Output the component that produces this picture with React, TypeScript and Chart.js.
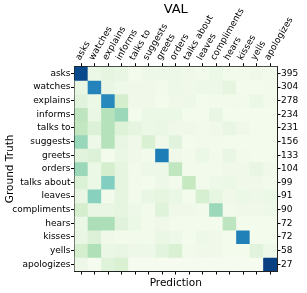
import React, { useEffect, useRef } from "react";
import { Chart, registerables } from "chart.js";

Chart.register(...registerables);

const predLabels = ["asks", "watches", "explains", "informs", "talks to", "suggests", "greets", "orders", "talks about", "leaves", "compliments", "hears", "kisses", "yells", "apologizes"];
const truthLabels = ["asks", "watches", "explains", "informs", "talks to", "suggests", "greets", "orders", "talks about", "leaves", "compliments", "hears", "kisses", "yells", "apologizes"];
const rowCounts = [395, 304, 278, 234, 231, 156, 133, 104, 99, 91, 90, 72, 72, 58, 27];

// normalized confusion values (row = ground truth, column = prediction)
const rowAsks = [0.97, 0.06, 0.1, 0.08, 0.02, 0.05, 0.05, 0.05, 0.04, 0.03, 0.06, 0.03, 0.03, 0.04, 0.03];
const rowWatches = [0.08, 0.78, 0.08, 0.05, 0.04, 0.04, 0.03, 0.05, 0.04, 0.05, 0.05, 0.1, 0.02, 0.02, 0.03];
const rowExplains = [0.12, 0.06, 0.76, 0.2, 0.04, 0.04, 0.02, 0.04, 0.05, 0.02, 0.03, 0.03, 0.03, 0.06, 0.03];
const rowInforms = [0.3, 0.07, 0.33, 0.41, 0.02, 0.06, 0.06, 0.06, 0.02, 0.02, 0.08, 0.02, 0.02, 0.02, 0.02];
const rowTalksTo = [0.28, 0.15, 0.33, 0.14, 0.1, 0.06, 0.07, 0.04, 0.04, 0.03, 0.04, 0.08, 0.04, 0.02, 0.02];
const rowSuggests = [0.42, 0.05, 0.33, 0.08, 0.04, 0.17, 0.04, 0.12, 0.02, 0.03, 0.03, 0.02, 0.02, 0.02, 0.02];
const rowGreets = [0.12, 0.15, 0.02, 0.07, 0.04, 0.03, 0.8, 0.04, 0.03, 0.06, 0.03, 0.08, 0.03, 0.02, 0.02];
const rowOrders = [0.41, 0.06, 0.2, 0.1, 0.03, 0.05, 0.05, 0.29, 0.03, 0.03, 0.03, 0.04, 0.04, 0.08, 0.04];
const rowTalksAbout = [0.16, 0.06, 0.48, 0.1, 0.03, 0.02, 0.05, 0.03, 0.27, 0.03, 0.05, 0.06, 0.04, 0.04, 0.03];
const rowLeaves = [0.08, 0.46, 0.03, 0.1, 0.03, 0.08, 0.1, 0.07, 0.02, 0.19, 0.09, 0.04, 0.06, 0.05, 0.06];
const rowCompliments = [0.2, 0.08, 0.08, 0.1, 0.05, 0.03, 0.13, 0.04, 0.04, 0.03, 0.41, 0.03, 0.04, 0.04, 0.05];
const rowHears = [0.06, 0.36, 0.36, 0.12, 0.06, 0.03, 0.04, 0.02, 0.02, 0.02, 0.02, 0.3, 0.02, 0.02, 0.02];
const rowKisses = [0.08, 0.15, 0.04, 0.03, 0.03, 0.03, 0.07, 0.05, 0.02, 0.05, 0.04, 0.02, 0.79, 0.02, 0.02];
const rowYells = [0.2, 0.35, 0.07, 0.08, 0.05, 0.05, 0.11, 0.17, 0.03, 0.04, 0.04, 0.02, 0.02, 0.12, 0.05];
const rowApologizes = [0.05, 0.01, 0.13, 0.17, 0.01, 0.01, 0.01, 0.01, 0.01, 0.01, 0.01, 0.01, 0.01, 0.01, 1.0];

const matrixRows = [rowAsks, rowWatches, rowExplains, rowInforms, rowTalksTo, rowSuggests, rowGreets, rowOrders, rowTalksAbout, rowLeaves, rowCompliments, rowHears, rowKisses, rowYells, rowApologizes];

const GNBU = [
  [247, 252, 240], [224, 243, 219], [204, 235, 197], [168, 221, 181], [123, 204, 196],
  [78, 179, 211], [43, 140, 190], [8, 104, 172], [8, 64, 129],
];

function gnbu(v: number): string {
  const t = Math.max(0, Math.min(1, v)) * (GNBU.length - 1);
  const i = Math.min(GNBU.length - 2, Math.floor(t));
  const f = t - i;
  const a = GNBU[i], b = GNBU[i + 1];
  const c = a.map((x, k) => Math.round(x + (b[k] - x) * f));
  return `rgb(${c[0]},${c[1]},${c[2]})`;
}

const FONT = "DejaVu Sans";

export default function App() {
  const ref = useRef<HTMLCanvasElement>(null);
  useEffect(() => {
    if (!ref.current) return;
    const datasets = matrixRows.map((row, r) => ({
      label: truthLabels[r],
      data: row.map(() => [r, r + 1]),
      backgroundColor: row.map((v) => gnbu(v)),
      borderWidth: 0,
      xAxisID: "x",
      yAxisID: "y",
      categoryPercentage: 1,
      barPercentage: 1,
      stack: "m",
    }));
    const centerTicks = (scale: any) => {
      scale.ticks = truthLabels.map((_, i) => ({ value: i + 0.5 }));
    };
    const chart = new Chart(ref.current, {
      type: "bar",
      data: { labels: predLabels, datasets: datasets as any },
      options: {
        animation: false,
        responsive: false,
        layout: { padding: { left: 2, right: 8, top: 0, bottom: 0 } },
        plugins: {
          legend: { display: false },
          tooltip: { enabled: false },
          title: { display: false },
        },
        scales: {
          x: {
            type: "category",
            position: "top",
            stacked: true,
            offset: true,
            afterFit: (s: any) => { s.height = 66.7; },
            grid: { display: true, drawOnChartArea: false, offset: false, tickLength: 3.5, color: "#000" },
            border: { display: true, color: "#222", width: 1 },
            ticks: { color: "#000", font: { family: FONT, size: 9 }, minRotation: 60, maxRotation: 60, autoSkip: false, padding: 1, labelOffset: 6 },
            title: { display: true, text: "VAL", color: "#000", font: { family: FONT, size: 13 }, padding: { top: 2, bottom: 0 } },
          },
          xb: {
            type: "category",
            position: "bottom",
            offset: true,
            afterFit: (s: any) => { s.height = 22; },
            grid: { display: true, drawOnChartArea: false, offset: false, tickLength: 3.5, color: "#000" },
            border: { display: true, color: "#222", width: 1 },
            ticks: { callback: () => "", padding: 0, autoSkip: false },
            title: { display: true, text: "Prediction", color: "#000", font: { family: FONT, size: 10.5 }, padding: { top: 0, bottom: 3.5 } },
          },
          y: {
            type: "linear",
            position: "left",
            min: 0,
            max: 15,
            reverse: true,
            stacked: false,
            afterBuildTicks: centerTicks,
            afterFit: (s: any) => { s.width = 72.5; },
            grid: { display: true, drawOnChartArea: false, tickLength: 3.5, color: "#000" },
            border: { display: true, color: "#222", width: 1 },
            ticks: { color: "#000", font: { family: FONT, size: 9 }, padding: 0.5, autoSkip: false, callback: (v: any) => truthLabels[Math.floor(Number(v))] },
            title: { display: true, text: "Ground Truth", color: "#000", font: { family: FONT, size: 10.5 }, padding: { top: 1.5, bottom: 0 } },
          },
          y2: {
            type: "linear",
            position: "right",
            min: 0,
            max: 15,
            reverse: true,
            afterBuildTicks: centerTicks,
            afterFit: (s: any) => { s.width = 22; },
            grid: { display: true, drawOnChartArea: false, tickLength: 3.5, color: "#000" },
            border: { display: true, color: "#222", width: 1 },
            ticks: { color: "#000", font: { family: FONT, size: 9 }, padding: 0.5, autoSkip: false, callback: (v: any) => String(rowCounts[Math.floor(Number(v))]) },
          },
        },
      } as any,
    });
    return () => chart.destroy();
  }, []);
  return (
    <div style={{ position: "fixed", left: 0, top: 0, width: 307, height: 293, background: "#fff" }}>
      <canvas ref={ref} width={307} height={293} style={{ width: 307, height: 293 }} />
    </div>
  );
}
